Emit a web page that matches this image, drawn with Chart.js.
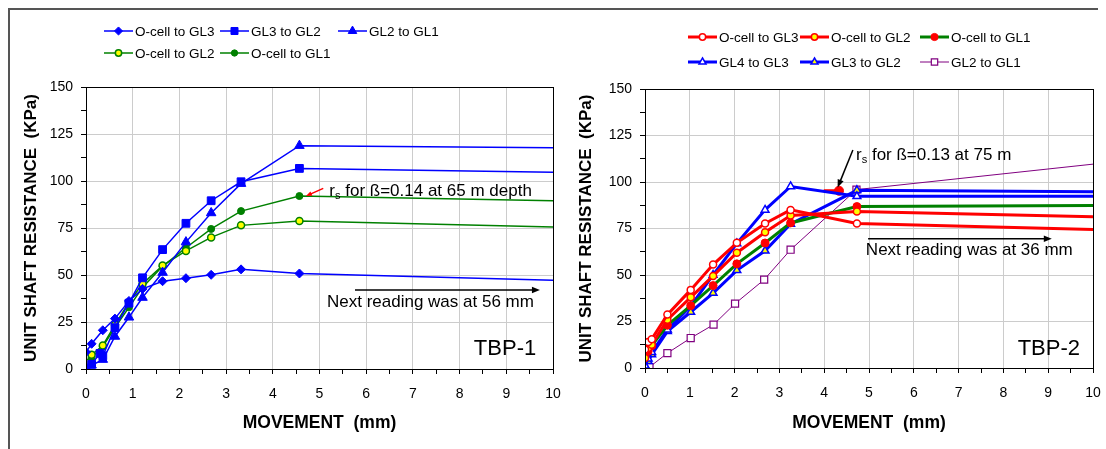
<!DOCTYPE html>
<html>
<head>
<meta charset="utf-8">
<script src="https://cdn.jsdelivr.net/npm/chart.js@4.4.1/dist/chart.umd.min.js"></script>
<style>
  html, body { margin: 0; padding: 0; background: #fff; }
  #wrap { position: relative; width: 1106px; height: 449px; overflow: hidden; }
  canvas { position: absolute; top: 0; }
  #tbp1 { left: 0; }
  #tbp2 { left: 565px; }
  #frame { position: absolute; left: 8px; top: 8px; width: 1088px; height: 460px;
           border-top: 2px solid #555; border-left: 2px solid #555; pointer-events: none; }
</style>
</head>
<body>
<div id="wrap">
  <canvas id="tbp1" width="565" height="449"></canvas>
  <canvas id="tbp2" width="541" height="449"></canvas>
  <div id="frame"></div>
</div>
<script>
Chart.defaults.font.family = '"Liberation Sans", Arial, sans-serif';
Chart.defaults.color = '#000';

// axis ticks
const xTickLabels = [0, 1, 2, 3, 4, 5, 6, 7, 8, 9, 10];
const yTickLabels = [0, 25, 50, 75, 100, 125, 150];

// TBP-1 (movement mm / unit shaft resistance kPa)
const tbp1Move = [0, 0.12, 0.36, 0.62, 0.92, 1.21, 1.64, 2.14, 2.68, 3.32, 4.57, 10];
const tbp1OcellGL3 = [9, 13.4, 20.6, 26.8, 36.2, 42.6, 46.7, 48.3, 50.1, 53, 50.8, 47.2];
const tbp1GL3GL2Move = [0, 0.12, 0.3, 0.36, 0.62, 0.92, 1.21, 1.64, 2.14, 2.68, 3.32, 4.57, 10];
const tbp1GL3GL2 = [0.5, 2.5, 8.3, 7, 22, 35, 48.5, 63.5, 77.5, 89.5, 99.6, 106.7, 104.6];
const tbp1GL2GL1 = [0.5, 2, 5, 17.3, 27.5, 38, 51.3, 67.5, 83, 98.6, 118.8, 117.7];
const tbp1OcellGL2 = [3.5, 7.6, 12.5, 23.5, 35.5, 45.3, 55, 62.8, 70, 76.4, 78.7, 75.5];
const tbp1OcellGL1 = [3, 6.2, 12, 22, 32.8, 43.4, 54.6, 64.5, 74.5, 84, 92, 89.5];

// TBP-2
const tbp2Move = [0, 0.07, 0.15, 0.5, 1.02, 1.52, 2.05, 2.68, 3.25, 4.73, 10];
const tbp2OcellGL3 = [10, 14, 15.5, 28.7, 42, 55.6, 67.3, 77.7, 85, 77.7, 74.4];
const tbp2OcellGL2 = [5.4, 10.8, 12.5, 26, 38, 49.5, 62, 73, 82, 84.2, 81.3];
const tbp2OcellGL1 = [6.3, 9, 12, 23, 33.5, 44.3, 56, 67.2, 78, 86.8, 87.3];
const tbp2GL4GL3 = [1.2, 5, 8.5, 20.6, 33.2, 50, 67, 85, 97.6, 92.3, 92.3];
const tbp2GL3GL2 = [1.3, 3.6, 7.2, 19.7, 30.1, 40.3, 52.5, 63, 77.4, 95.5, 94.7];
const tbp2GL2GL1Move = [0.1, 0.5, 1.02, 1.53, 2.01, 2.66, 3.25, 4.72, 10];
const tbp2GL2GL1 = [0.5, 8, 16.1, 23.3, 34.6, 47.5, 63.6, 95.9, 109.6];
const tbp2BetaMove = [3.99, 4.33];
const tbp2Beta = [95.3, 95.3];

const BLUE = '#0000ff', GREEN = '#008000', RED = '#ff0000', PURPLE = '#800080', YELLOW = '#ffff00';
const gridGray = '#cccccc';

function series(label, xs, ys, s) {
  return {
    label,
    data: xs.map((x, i) => ({ x, y: ys[i] })),
    borderColor: s.line,
    borderWidth: s.width,
    pointStyle: s.shape,
    pointBackgroundColor: s.fill,
    pointBorderColor: s.edge || s.line,
    pointBorderWidth: s.edgeWidth || 1,
    pointRadius: xs.map(x => (x >= 10 || s.lastOnly && x !== xs[xs.length - 1] ? 0 : s.size)),
    pointHoverRadius: 0,
    markerSize: s.size,
    inLegend: s.inLegend !== false,
    tension: 0,
    fill: false,
  };
}

function drawMarker(ctx, shape, x, y, r, fill, edge, lw) {
  ctx.save();
  ctx.beginPath();
  if (shape === 'circle') {
    ctx.arc(x, y, r, 0, Math.PI * 2);
  } else if (shape === 'rect') {
    const s = r * Math.SQRT1_2;
    ctx.rect(x - s, y - s, 2 * s, 2 * s);
  } else if (shape === 'rectRot') {
    ctx.moveTo(x, y - r); ctx.lineTo(x + r, y); ctx.lineTo(x, y + r); ctx.lineTo(x - r, y); ctx.closePath();
  } else if (shape === 'triangle') {
    const a = 2 * Math.PI / 3;
    ctx.moveTo(x, y - r);
    ctx.lineTo(x + r * Math.sin(a), y - r * Math.cos(a));
    ctx.lineTo(x - r * Math.sin(a), y - r * Math.cos(a));
    ctx.closePath();
  }
  ctx.fillStyle = fill; ctx.fill();
  ctx.lineWidth = lw; ctx.strokeStyle = edge; ctx.stroke();
  ctx.restore();
}

// legend drawn as a grid: 3 items per row
function legendPlugin(cols, rows) {
  return {
    id: 'gridLegend',
    afterDraw(chart) {
      const ctx = chart.ctx;
      const items = chart.data.datasets.filter(d => d.inLegend);
      items.forEach((d, i) => {
        const x = cols[i % 3], y = rows[Math.floor(i / 3)];
        ctx.save();
        ctx.strokeStyle = d.borderColor;
        ctx.lineWidth = d.borderWidth;
        ctx.beginPath(); ctx.moveTo(x, y); ctx.lineTo(x + 29, y); ctx.stroke();
        drawMarker(ctx, d.pointStyle, x + 14.5, y, d.markerSize * 0.9, d.pointBackgroundColor, d.pointBorderColor, d.pointBorderWidth);
        ctx.fillStyle = '#000';
        ctx.font = '13.5px "Liberation Sans", Arial, sans-serif';
        ctx.textBaseline = 'middle';
        ctx.fillText(d.label, x + 31, y + 1);
        ctx.restore();
      });
    }
  };
}

function arrow(ctx, x1, y1, x2, y2, color, lw, head) {
  const ang = Math.atan2(y2 - y1, x2 - x1);
  ctx.save();
  ctx.strokeStyle = color; ctx.fillStyle = color; ctx.lineWidth = lw;
  ctx.beginPath(); ctx.moveTo(x1, y1);
  ctx.lineTo(x2 - Math.cos(ang) * head * 0.8, y2 - Math.sin(ang) * head * 0.8); ctx.stroke();
  ctx.beginPath();
  ctx.moveTo(x2, y2);
  ctx.lineTo(x2 - head * Math.cos(ang) + head * 0.4 * Math.sin(ang), y2 - head * Math.sin(ang) - head * 0.4 * Math.cos(ang));
  ctx.lineTo(x2 - head * Math.cos(ang) - head * 0.4 * Math.sin(ang), y2 - head * Math.sin(ang) + head * 0.4 * Math.cos(ang));
  ctx.closePath(); ctx.fill();
  ctx.restore();
}

// frame of plot area + notes, placed in data units
function notesPlugin(notes) {
  return {
    id: 'notes',
    afterDraw(chart) {
      const { ctx, chartArea: a, scales: { x: sx, y: sy } } = chart;
      ctx.save();
      ctx.strokeStyle = '#000'; ctx.lineWidth = 1;
      ctx.strokeRect(Math.round(a.left) + 0.5, Math.round(a.top) + 0.5, Math.round(a.right - a.left), Math.round(a.bottom - a.top));
      ctx.restore();
      notes.forEach(n => {
        if (n.type === 'arrow') {
          arrow(ctx, sx.getPixelForValue(n.x1), sy.getPixelForValue(n.y1),
                sx.getPixelForValue(n.x2), sy.getPixelForValue(n.y2), n.color, n.width, n.head);
          return;
        }
        let px = sx.getPixelForValue(n.x);
        const py = sy.getPixelForValue(n.y);
        ctx.save();
        ctx.fillStyle = '#000';
        ctx.textBaseline = 'middle';
        ctx.font = n.size + 'px "Liberation Sans", Arial, sans-serif';
        if (n.align === 'right') {
          ctx.textAlign = 'right';
          ctx.fillText(n.text, px, py);
        } else {
          n.parts.forEach(p => {
            ctx.font = (p.sub ? n.size * 0.65 : n.size) + 'px "Liberation Sans", Arial, sans-serif';
            ctx.fillText(p.t, px, py + (p.sub ? 5 : 0));
            px += ctx.measureText(p.t).width;
          });
        }
        ctx.restore();
      });
    }
  };
}

function axes(yWidth, xHeight, yTitlePad) {
  return {
    x: {
      type: 'linear', min: 0, max: 10,
      afterFit: s => { s.height = xHeight; s.paddingLeft = 0; s.paddingRight = 0; },
      ticks: { stepSize: 0.5, autoSkip: false, maxRotation: 0, padding: 12, font: { size: 14 }, color: '#000',
               callback: v => (xTickLabels.includes(v) ? String(v) : '') },
      grid: { color: c => (c.tick && xTickLabels.includes(c.tick.value) ? gridGray : 'transparent'),
              tickColor: '#000', tickLength: 5, lineWidth: 1 },
      border: { color: '#000', width: 1 },
      title: { display: true, text: 'MOVEMENT  (mm)', color: '#000',
               font: { size: 17.5, weight: 'bold' }, padding: { top: 0, bottom: 15 } },
    },
    y: {
      min: 0, max: 150,
      afterFit: s => { s.width = yWidth; s.paddingTop = 0; s.paddingBottom = 0; },
      ticks: { stepSize: 12.5, autoSkip: false, padding: 8, font: { size: 14 }, color: '#000',
               callback: v => (yTickLabels.includes(v) ? String(v) : '') },
      grid: { color: c => (c.tick && yTickLabels.includes(c.tick.value) ? gridGray : 'transparent'),
              tickColor: '#000', tickLength: 5, lineWidth: 1 },
      border: { color: '#000', width: 1 },
      title: { display: true, text: 'UNIT SHAFT RESISTANCE  (KPa)', color: '#000',
               font: { size: 17, weight: 'bold' }, padding: { top: yTitlePad, bottom: 0 } },
    },
  };
}

function baseOptions(pad, yWidth, xHeight, yTitlePad) {
  return {
    responsive: false,
    animation: false,
    layout: { padding: pad },
    plugins: { legend: { display: false }, tooltip: { enabled: false } },
    scales: axes(yWidth, xHeight, yTitlePad),
  };
}

new Chart(document.getElementById('tbp1'), {
  type: 'line',
  data: {
    datasets: [
      series('O-cell to GL3', tbp1Move, tbp1OcellGL3, { line: BLUE, width: 1.5, shape: 'rectRot', fill: BLUE, size: 4.5 }),
      series('GL3 to GL2', tbp1GL3GL2Move, tbp1GL3GL2, { line: BLUE, width: 1.5, shape: 'rect', fill: BLUE, size: 5.5 }),
      series('GL2 to GL1', tbp1Move, tbp1GL2GL1, { line: BLUE, width: 1.5, shape: 'triangle', fill: BLUE, size: 5.5 }),
      series('O-cell to GL2', tbp1Move, tbp1OcellGL2, { line: GREEN, width: 1.5, shape: 'circle', fill: YELLOW, size: 3.5, edgeWidth: 1.5 }),
      series('O-cell to GL1', tbp1Move, tbp1OcellGL1, { line: GREEN, width: 1.5, shape: 'circle', fill: GREEN, size: 3.5 }),
    ],
  },
  options: baseOptions({ left: 0, top: 87, right: 12, bottom: 0 }, 86, 80, 21),
  plugins: [
    legendPlugin([104, 220, 338], [31, 53]),
    notesPlugin([
      { type: 'arrow', x1: 5.08, y1: 96.1, x2: 4.71, y2: 92, color: RED, width: 1.5, head: 6 },
      { type: 'text', x: 5.21, y: 94.7, size: 17, parts: [{ t: 'r' }, { t: 's', sub: true }, { t: ' for ß=0.14 at 65 m depth' }] },
      { type: 'arrow', x1: 5.76, y1: 42, x2: 9.72, y2: 42, color: '#000', width: 1.5, head: 8 },
      { type: 'text', x: 5.16, y: 35.3, size: 17, parts: [{ t: 'Next reading was at 56 mm' }] },
      { type: 'text', x: 9.64, y: 10.6, size: 22, align: 'right', text: 'TBP-1' },
    ]),
  ],
});

new Chart(document.getElementById('tbp2'), {
  type: 'line',
  data: {
    datasets: [
      series('O-cell to GL3', tbp2Move, tbp2OcellGL3, { line: RED, width: 3, shape: 'circle', fill: '#fff', edge: RED, size: 3.5, edgeWidth: 1.5 }),
      series('O-cell to GL2', tbp2Move, tbp2OcellGL2, { line: RED, width: 3, shape: 'circle', fill: YELLOW, edge: RED, size: 3.5, edgeWidth: 1.5 }),
      series('O-cell to GL1', tbp2Move, tbp2OcellGL1, { line: GREEN, width: 3, shape: 'circle', fill: RED, edge: RED, size: 4 }),
      series('GL4 to GL3', tbp2Move, tbp2GL4GL3, { line: BLUE, width: 3, shape: 'triangle', fill: '#fff', edge: BLUE, size: 4.5, edgeWidth: 1.5 }),
      series('GL3 to GL2', tbp2Move, tbp2GL3GL2, { line: BLUE, width: 3, shape: 'triangle', fill: YELLOW, edge: BLUE, size: 4.5, edgeWidth: 1.5 }),
      series('GL2 to GL1', tbp2GL2GL1Move, tbp2GL2GL1, { line: PURPLE, width: 1, shape: 'rect', fill: '#fff', edge: PURPLE, size: 5, edgeWidth: 1.2 }),
      series('rs', tbp2BetaMove, tbp2Beta, { line: RED, width: 3, shape: 'circle', fill: RED, edge: RED, size: 4.5, lastOnly: true, inLegend: false }),
    ],
  },
  options: baseOptions({ left: 0, top: 89, right: 13, bottom: 0 }, 80, 81, 11),
  plugins: [
    legendPlugin([123, 235, 355], [37, 62]),
    notesPlugin([
      { type: 'arrow', x1: 4.64, y1: 117.2, x2: 4.3, y2: 97, color: '#000', width: 1.5, head: 8 },
      { type: 'text', x: 4.71, y: 114.5, size: 17, parts: [{ t: 'r' }, { t: 's', sub: true }, { t: ' for ß=0.13 at 75 m' }] },
      { type: 'arrow', x1: 4.98, y1: 69.5, x2: 9.08, y2: 69.5, color: '#000', width: 1.5, head: 8 },
      { type: 'text', x: 4.93, y: 63.4, size: 17, parts: [{ t: 'Next reading was at 36 mm' }] },
      { type: 'text', x: 9.71, y: 10.2, size: 22, align: 'right', text: 'TBP-2' },
    ]),
  ],
});
</script>
</body>
</html>
